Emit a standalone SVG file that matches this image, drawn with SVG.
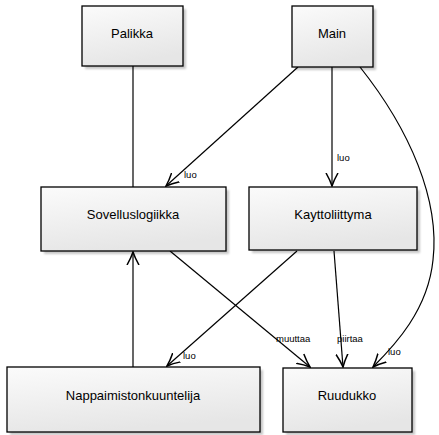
<svg xmlns="http://www.w3.org/2000/svg" width="439" height="435" viewBox="0 0 439 435">
<style>
.box{fill:url(#g);stroke:#000;stroke-width:1.3}
.sh{fill:#000;opacity:0.22;filter:url(#b)}
.t{font-family:"Liberation Sans",Arial,sans-serif;font-size:13px;fill:#000;text-anchor:middle}
.l{font-family:"Liberation Sans",Arial,sans-serif;font-size:9.5px;fill:#000}
.c{fill:none;stroke:#000;stroke-width:1.2}
</style>
<defs>
<linearGradient id="g" x1="0" y1="0" x2="0.3" y2="1">
<stop offset="0" stop-color="#fbfbfb"/>
<stop offset="1" stop-color="#e6e6e6"/>
</linearGradient>
<filter id="b" x="-10%" y="-10%" width="120%" height="120%"><feGaussianBlur stdDeviation="1.2"/></filter>
<marker id="a" viewBox="0 0 14 14" refX="13" refY="7" markerWidth="14" markerHeight="14" markerUnits="userSpaceOnUse" orient="auto">
<path d="M0,1 Q7,5 13,7 Q7,9 0,13" fill="none" stroke="#000" stroke-width="1.5"/>
</marker>
</defs>
<rect width="439" height="435" fill="#fff"/>
<g id="connectors">
<path class="c" d="M133,66 L133,187"/>
<path class="c" d="M298,67 L166,186" marker-end="url(#a)"/>
<text class="l" x="184" y="178">luo</text>
<path class="c" d="M332,67 L332,186" marker-end="url(#a)"/>
<text class="l" x="337" y="161">luo</text>
<path class="c" d="M360,67 C410,130 440,200 433,260 C428,310 395,345 373,367" marker-end="url(#a)"/>
<text class="l" x="388" y="355">luo</text>
<path class="c" d="M170,251 L310,367" marker-end="url(#a)"/>
<text class="l" x="276" y="342">muuttaa</text>
<path class="c" d="M334,251 L343,367" marker-end="url(#a)"/>
<text class="l" x="337" y="342">piirtaa</text>
<path class="c" d="M297,251 L167,366" marker-end="url(#a)"/>
<text class="l" x="183" y="359">luo</text>
<path class="c" d="M133,367 L133,252" marker-end="url(#a)"/>
</g>
<g id="palikka">
<rect class="sh" x="85" y="9" width="101" height="60"/>
<rect class="box" x="82" y="6" width="101" height="60"/>
<text class="t" x="132" y="38">Palikka</text>
</g>
<g id="main">
<rect class="sh" x="295" y="9" width="81" height="61"/>
<rect class="box" x="292" y="6" width="81" height="61"/>
<text class="t" x="332" y="38">Main</text>
</g>
<g id="sovelluslogiikka">
<rect class="sh" x="44" y="190" width="185" height="64"/>
<rect class="box" x="41" y="187" width="185" height="64"/>
<text class="t" x="133" y="219">Sovelluslogiikka</text>
</g>
<g id="kayttoliittyma">
<rect class="sh" x="252" y="190" width="168" height="63"/>
<rect class="box" x="249" y="187" width="168" height="63"/>
<text class="t" x="333" y="219">Kayttoliittyma</text>
</g>
<g id="nappaimistonkuuntelija">
<rect class="sh" x="10" y="370" width="253" height="65"/>
<rect class="box" x="7" y="367" width="253" height="65"/>
<text class="t" x="133" y="400">Nappaimistonkuuntelija</text>
</g>
<g id="ruudukko">
<rect class="sh" x="286" y="371" width="129" height="64"/>
<rect class="box" x="283" y="368" width="129" height="64"/>
<text class="t" x="347" y="400">Ruudukko</text>
</g>
</svg>
